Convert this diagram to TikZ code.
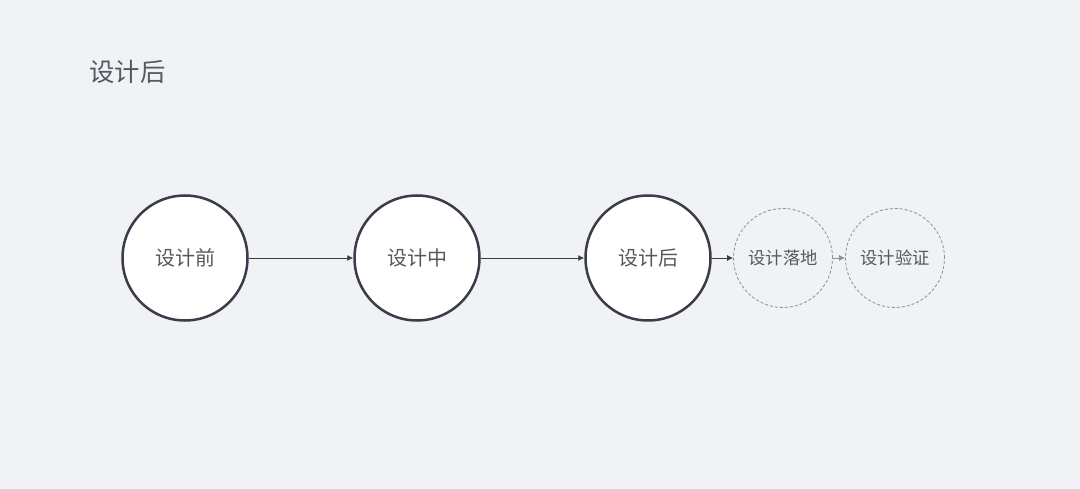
\documentclass[tikz,border=0pt]{standalone}
\usepackage{fontspec}
\setmainfont{Noto Sans CJK SC}
\usetikzlibrary{arrows.meta}
\definecolor{bgcol}{HTML}{F1F2F6}
\definecolor{ringcol}{HTML}{3A3C4A}
\definecolor{txtcol}{HTML}{555860}
\definecolor{dashcol}{HTML}{8E9096}
\begin{document}
\begin{tikzpicture}[x=1pt,y=-1pt,
    stage/.style={circle,draw=ringcol,line width=2.5pt,fill=white,minimum size=125pt,inner sep=0pt,text=txtcol,font=\fontsize{20}{20}\selectfont},
    later/.style={circle,draw=dashcol,dashed,line width=0.8pt,dash pattern=on 3pt off 2pt,minimum size=99pt,inner sep=0pt,text=txtcol,font=\fontsize{17.3}{17.3}\selectfont}]
  \fill[bgcol] (0,0) rectangle (1080,489);
  \useasboundingbox (0,0) rectangle (1080,489);
  \node[anchor=west,text=txtcol,font=\fontsize{25.4}{25.4}\selectfont] (title) at (86,72) {设计后};
  \draw
    (185,258) node[stage] (0){设计前}
    (417,258) node[stage] (1){设计中}
    (648,258) node[stage] (2){设计后}
    (783,258) node[later] (3){设计落地}
    (895,258) node[later] (4){设计验证};
  \begin{scope}[-{Latex[length=6pt,width=6pt]},line width=0.8pt]
    \draw[ringcol] (0) -- (1);
    \draw[ringcol] (1) -- (2);
    \draw[ringcol] (2) -- (3);
    \draw[dashcol] (3) -- (4);
  \end{scope}
\end{tikzpicture}
\end{document}
